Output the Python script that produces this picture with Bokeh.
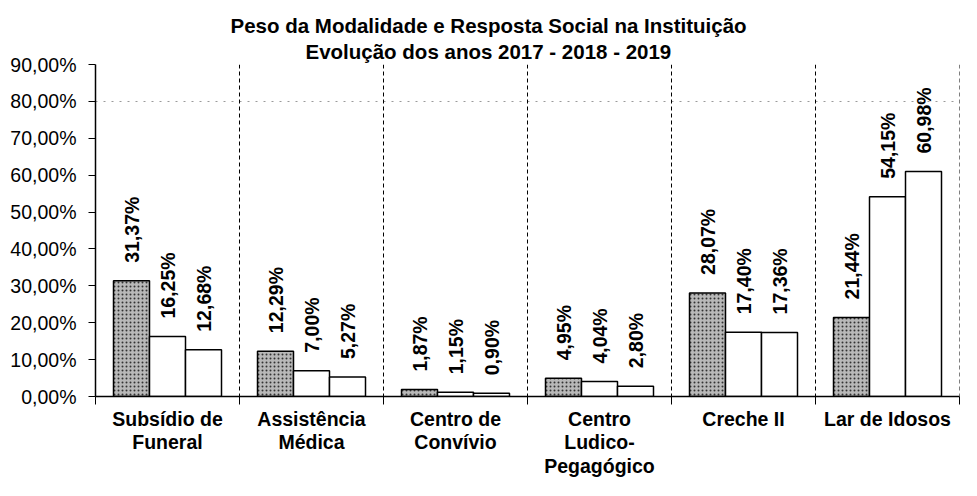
from math import pi
from bokeh.plotting import figure
from bokeh.models import FixedTicker, Span, Range1d, Title
from bokeh.core.properties import value
from bokeh.embed import file_html
from bokeh.resources import INLINE

categories = ["Subsídio de\nFuneral", "Assistência\nMédica", "Centro de\nConvívio",
              "Centro\nLudico-\nPegagógico", "Creche II", "Lar de Idosos"]
years = ["2017", "2018", "2019"]
v2017 = [31.37, 12.29, 1.87, 4.95, 28.07, 21.44]
v2018 = [16.25, 7.00, 1.15, 4.04, 17.40, 54.15]
v2019 = [12.68, 5.27, 0.90, 2.80, 17.36, 60.98]
y_ticks = [0, 10, 20, 30, 40, 50, 60, 70, 80, 90]
y_tick_labels = ["0,00%", "10,00%", "20,00%", "30,00%", "40,00%", "50,00%",
                 "60,00%", "70,00%", "80,00%", "90,00%"]
title_line1 = "Peso da Modalidade e Resposta Social na Instituição"
title_line2 = "Evolução dos anos 2017 - 2018 - 2019"

FONT = "Liberation Sans"
n = len(categories)

p = figure(width=961, height=480, x_range=Range1d(0, n), y_range=Range1d(0, 90),
           output_backend="svg", toolbar_location=None,
           min_border_left=95, min_border_right=2, min_border_top=64, min_border_bottom=70)
p.outline_line_color = None
p.background_fill_color = "white"
p.border_fill_color = "white"

# title, two lines, centred over the whole chart
t2 = Title(text=title_line2, align="left", offset=210, standoff=3,
           text_font=FONT, text_font_style="bold", text_font_size="20.5px",
           text_line_height=1.0, text_color="black")
t1 = Title(text=title_line1, align="left", offset=135, standoff=0,
           text_font=FONT, text_font_style="bold", text_font_size="20.5px",
           text_color="black")
p.add_layout(t2, "above")
p.add_layout(t1, "above")

series = [v2017, v2018, v2019]
offsets = [-0.25, 0.0, 0.25]
for j, vals in enumerate(series):
    xs = [i + 0.5 + offsets[j] for i in range(n)]
    if j == 0:
        p.vbar(x=xs, top=vals, width=0.25, bottom=0, fill_color="#b8b8b8",
               hatch_pattern="dot", hatch_color="#333333", hatch_scale=4, hatch_weight=1.3,
               line_color="black", line_width=1.5)
    else:
        p.vbar(x=xs, top=vals, width=0.25, bottom=0, fill_color="white",
               line_color="black", line_width=1.5)

for j, vals in enumerate(series):
    xs = [i + 0.5 + offsets[j] for i in range(n)]
    labels = [f"{v:.2f}%".replace(".", ",") for v in vals]
    p.text(x=xs, y=vals, text=labels, angle=pi / 2, text_align="left",
           text_baseline="middle", y_offset=-18, text_font=value(FONT),
           text_font_style="bold", text_font_size="19.5px", text_color="black")

for k in range(1, n + 1):
    p.add_layout(Span(location=k, dimension="height", line_color="black",
                      line_width=1, line_dash="4 3"))

# axes
p.xaxis.ticker = FixedTicker(ticks=[i + 0.5 for i in range(n)],
                             minor_ticks=list(range(n + 1)))
p.xaxis.major_label_overrides = {i + 0.5: c for i, c in enumerate(categories)}
p.xaxis.major_tick_out = 0
p.xaxis.major_tick_in = 0
p.xaxis.minor_tick_out = 8
p.xaxis.minor_tick_in = 0
p.xaxis.minor_tick_line_color = "black"
p.xaxis.axis_line_width = 1.5
p.xaxis.major_label_standoff = 3
p.xaxis.major_label_text_font = FONT
p.xaxis.major_label_text_font_style = "bold"
p.xaxis.major_label_text_font_size = "19.5px"
p.xaxis.major_label_text_line_height = 1.08
p.xaxis.major_label_text_color = "black"

p.yaxis.ticker = FixedTicker(ticks=y_ticks)
p.yaxis.major_label_overrides = {t: l for t, l in zip(y_ticks, y_tick_labels)}
p.yaxis.major_tick_out = 7
p.yaxis.major_tick_in = 0
p.yaxis.minor_tick_out = 0
p.yaxis.minor_tick_in = 0
p.yaxis.axis_line_width = 1.5
p.yaxis.major_tick_line_width = 1
p.yaxis.major_label_standoff = 12
p.yaxis.major_label_text_font = FONT
p.yaxis.major_label_text_font_size = "19.5px"
p.yaxis.major_label_text_color = "black"

p.xgrid.visible = False
p.ygrid.ticker = FixedTicker(ticks=[80, 90])
p.ygrid.grid_line_color = "#9a9a9a"
p.ygrid.grid_line_dash = "2 6"
p.ygrid.grid_line_width = 1

open("out.html", "w").write(file_html(p, INLINE))
